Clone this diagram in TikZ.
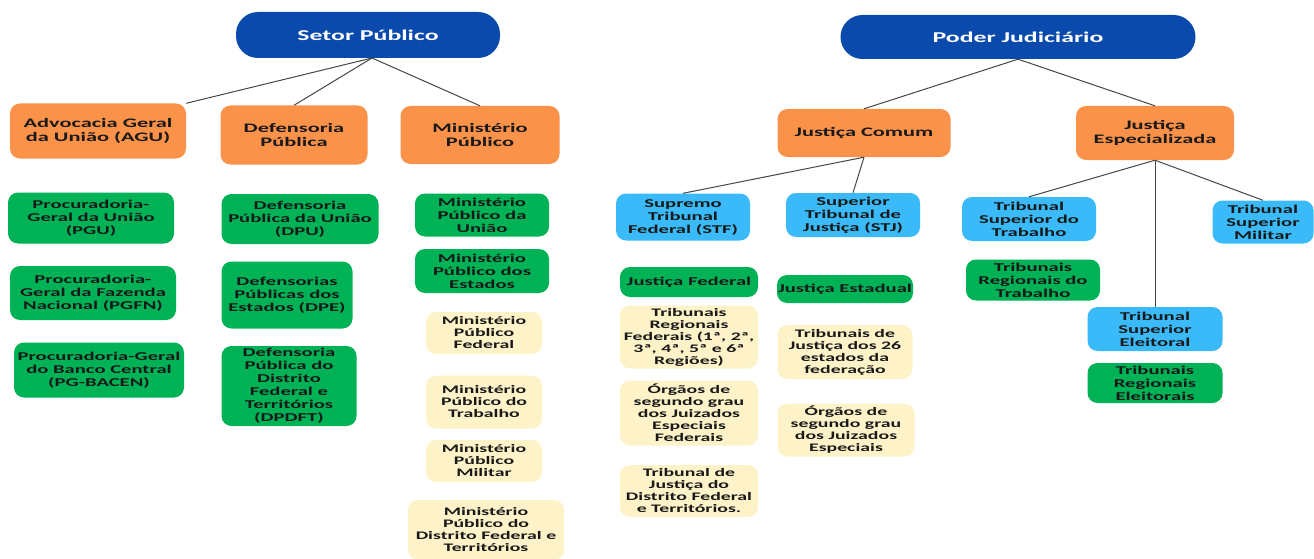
\documentclass[tikz,border=0pt]{standalone}
\usepackage{fontspec}
\newfontfamily\orgfont[FakeStretch=1.72]{Carlito}
\definecolor{pillblue}{RGB}{10,74,172}
\definecolor{boxorange}{RGB}{250,146,74}
\definecolor{boxgreen}{RGB}{0,178,86}
\definecolor{boxblue}{RGB}{58,186,248}
\definecolor{boxcream}{RGB}{253,242,200}
\definecolor{linkgray}{RGB}{70,70,70}
\begin{document}
\begin{tikzpicture}[x=1pt, y=-1pt,
  every node/.style={align=center, inner sep=1pt, text=black!90,
    font=\orgfont\bfseries\fontsize{12}{13}\selectfont},
  boxsize/.style 2 args={minimum width=#1pt, minimum height=#2pt},
  toppill/.style={fill=pillblue, text=white, rounded corners=22pt,
    font=\orgfont\bfseries\fontsize{15}{17}\selectfont},
  orangebox/.style={fill=boxorange, rounded corners=10pt,
    font=\orgfont\bfseries\fontsize{13}{14.5}\selectfont},
  greenbox/.style={fill=boxgreen, rounded corners=10pt},
  bluebox/.style={fill=boxblue, rounded corners=10pt},
  creambox/.style={fill=boxcream, rounded corners=10pt,
    font=\orgfont\bfseries\fontsize{11.5}{12}\selectfont},
  link/.style={draw=linkgray, line width=1pt}]
\useasboundingbox (0,0) rectangle (1314,559);

% Setor Publico
\node[toppill, boxsize={264}{46}] (setor) at (368,35) {Setor Público};
\node[orangebox, boxsize={176}{55}] (agu) at (98,131) {Advocacia Geral\\da União (AGU)};
\node[orangebox, boxsize={147}{59}] (defensoria) at (294,135) {Defensoria\\Pública};
\node[orangebox, boxsize={159}{58}] (ministerio) at (480,135) {Ministério\\Público};
\draw[link] (372,58) -- (agu.north east);
\draw[link] (372,58) -- (defensoria.north);
\draw[link] (372,58) -- (ministerio.north);

\node[greenbox, boxsize={166}{51}] (pgu) at (91,218) {Procuradoria-\\Geral da União\\(PGU)};
\node[greenbox, boxsize={166}{54}] (pgfn) at (93,293) {Procuradoria-\\Geral da Fazenda\\Nacional (PGFN)};
\node[greenbox, boxsize={170}{55}] (pgbacen) at (99,370) {Procuradoria-Geral\\do Banco Central\\(PG-BACEN)};

\node[greenbox, boxsize={157}{50}] (dpu) at (300,219) {Defensoria\\Pública da União\\(DPU)};
\node[greenbox, boxsize={131}{67}] (dpe) at (287,295) {Defensorias\\Públicas dos\\Estados (DPE)};
\node[greenbox, boxsize={135}{80}] (dpdft) at (289,386) {Defensoria\\Pública do\\Distrito\\Federal e\\Territórios\\(DPDFT)};

\node[greenbox, boxsize={134}{43}] (mpu) at (482,215) {Ministério\\Público da\\União};
\node[greenbox, boxsize={134}{44}] (mpe) at (482,271) {Ministério\\Público dos\\Estados};
\node[creambox, boxsize={116}{42}] (mpf) at (484,333) {Ministério\\Público\\Federal};
\node[creambox, boxsize={116}{53}] (mpt) at (484,402) {Ministério\\Público do\\Trabalho};
\node[creambox, boxsize={116}{42}] (mpm) at (484,461) {Ministério\\Público\\Militar};
\node[creambox, boxsize={156}{60}] (mpdft) at (486,530) {Ministério\\Público do\\Distrito Federal e\\Territórios};

% Poder Judiciario
\node[toppill, boxsize={355}{44}] (poder) at (1018,37) {Poder Judiciário};
\node[orangebox, boxsize={173}{48}] (comum) at (864,133) {Justiça Comum};
\node[orangebox, boxsize={158}{54}] (especial) at (1155,133) {Justiça\\Especializada};
\draw[link] (poder.south) -- (comum.north);
\draw[link] (poder.south) -- (especial.north);

\node[bluebox, boxsize={134}{47}] (stf) at (683,217) {Supremo\\Tribunal\\Federal (STF)};
\node[bluebox, boxsize={134}{44}] (stj) at (853,215) {Superior\\Tribunal de\\Justiça (STJ)};
\node[bluebox, boxsize={134}{44}] (tst) at (1029,219) {Tribunal\\Superior do\\Trabalho};
\node[bluebox, boxsize={101}{43}] (tsm) at (1263,222) {Tribunal\\Superior\\Militar};
\node[bluebox, boxsize={135}{44}] (tse) at (1155,329) {Tribunal\\Superior\\Eleitoral};
\draw[link] (comum.south) -- (stf.north);
\draw[link] (comum.south) -- (stj.north);
\draw[link] (especial.south) -- (tst.north);
\draw[link] (especial.south) -- (tse.north);
\draw[link] (especial.south) -- (tsm.north);

\node[greenbox, boxsize={138}{30}] (jfederal) at (689,282) {Justiça Federal};
\node[creambox, boxsize={138}{63}] (trf) at (689,337) {Tribunais\\Regionais\\Federais (1ª, 2ª,\\3ª, 4ª, 5ª e 6ª\\Regiões)};
\node[creambox, boxsize={138}{65}] (orgfed) at (689,413) {Órgãos de\\segundo grau\\dos Juizados\\Especiais\\Federais};
\node[creambox, boxsize={138}{52}] (tjdft) at (689,491) {Tribunal de\\Justiça do\\Distrito Federal\\e Territórios.};

\node[greenbox, boxsize={135}{28}] (jestadual) at (845,289) {Justiça Estadual};
\node[creambox, boxsize={135}{54}] (tjestados) at (845,352) {Tribunais de\\Justiça dos 26\\estados da\\federação};
\node[creambox, boxsize={137}{53}] (orgest) at (846,430) {Órgãos de\\segundo grau\\dos Juizados\\Especiais};

\node[greenbox, boxsize={134}{41}] (trt) at (1033,280) {Tribunais\\Regionais do\\Trabalho};
\node[greenbox, boxsize={135}{40}] (tre) at (1155,383) {Tribunais\\Regionais\\Eleitorais};
\end{tikzpicture}
\end{document}
